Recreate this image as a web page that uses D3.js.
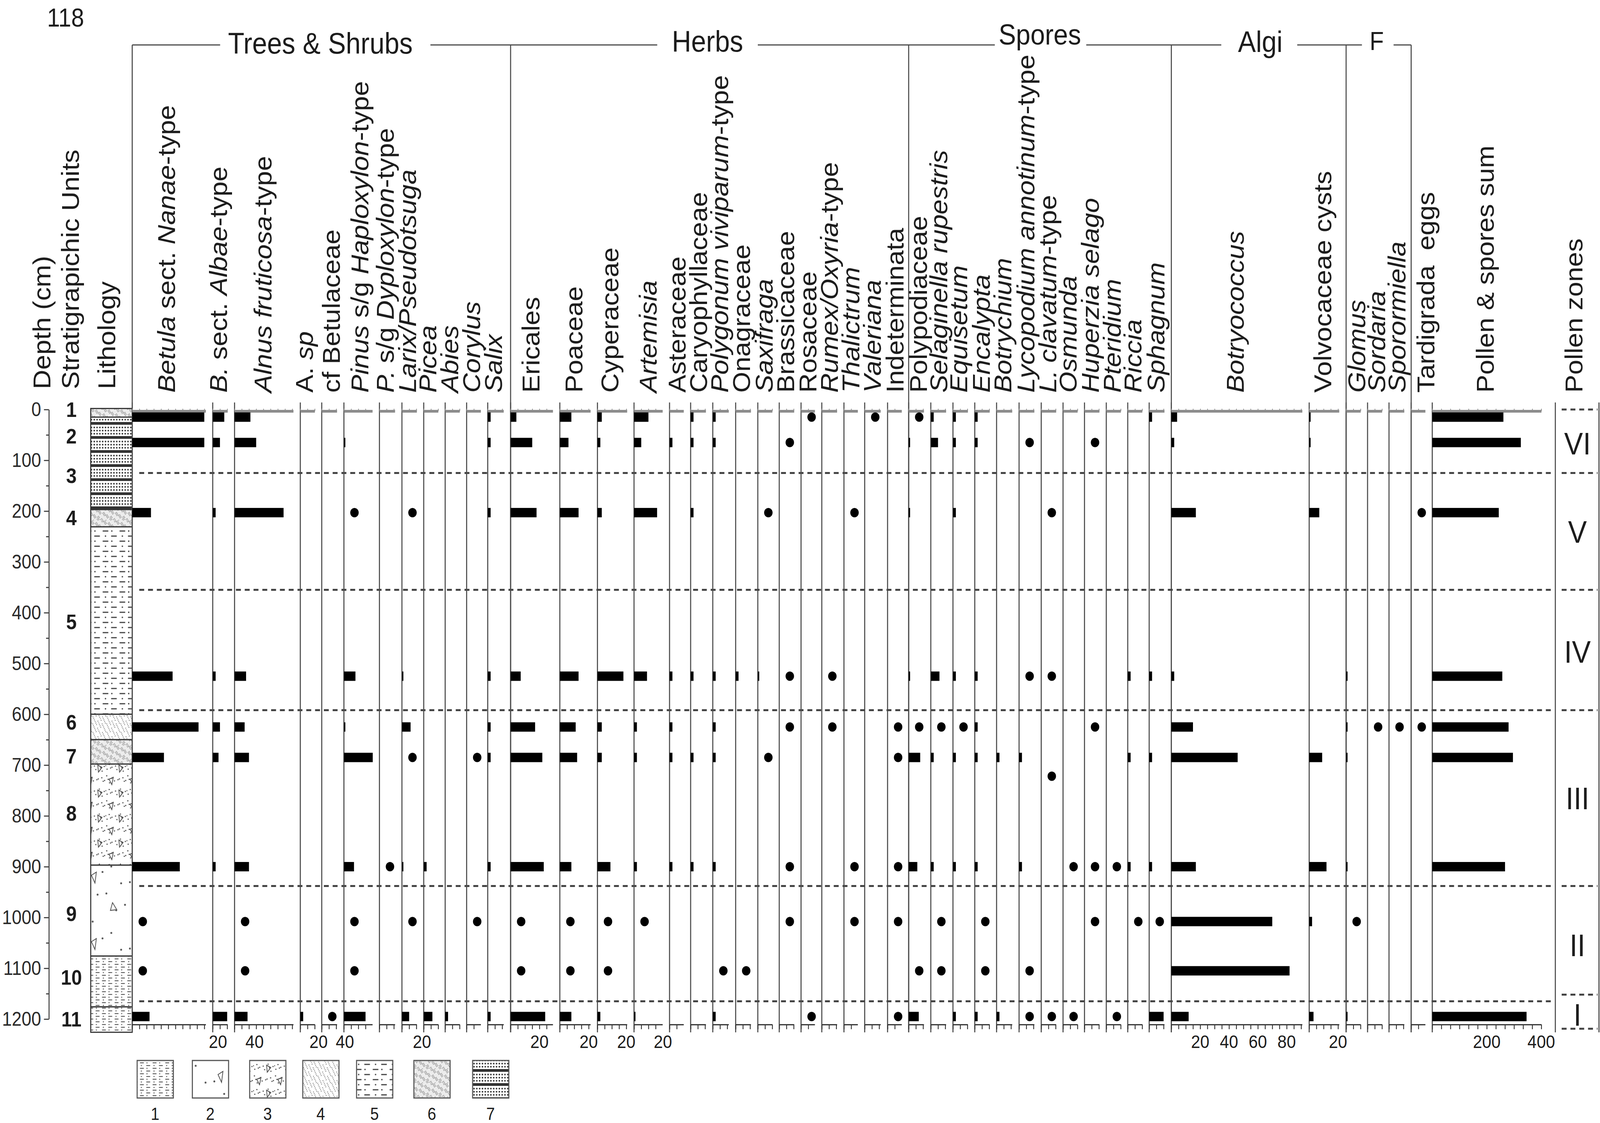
<!DOCTYPE html>
<html><head><meta charset="utf-8">
<script src="https://cdn.jsdelivr.net/npm/d3@7"></script>
<style>html,body{margin:0;padding:0;background:#fff;width:100%;height:100%;overflow:hidden;} svg{display:block;width:100vw;height:100vh;} text{white-space:pre;}</style>
</head><body><svg id="chart" viewBox="0 0 4550 2874" preserveAspectRatio="none"></svg>
<script>
// ---------------- DATA ----------------
const P = "+"; // present (<1 %), drawn as a dot
const sampleDepths = [15, 65, 203, 525, 625, 685, 722, 900, 1008, 1105, 1195];

const treeTaxa = ["*Betula* sect. *Nanae*-type", "*B.* sect. *Albae*-type", "*Alnus fruticosa*-type", "A. *sp*",
  "cf Betulaceae", "*Pinus* s/g *Haploxylon*-type", "*P.* s/g *Dyploxylon*-type", "*Larix/Pseudotsuga*",
  "*Picea*", "*Abies*", "*Corylus*", "*Salix*"];
const treeValues = [
  [50, 50, 13, 28, 46, 22, 0, 33, P, P, 12],
  [8, 5, 2, 2, 5, 4, 0, 2, 0, 0, 10],
  [11, 15, 34, 8, 7, 10, 0, 10, P, P, 9],
  [0, 0, 0, 0, 0, 0, 0, 0, 0, 0, 2],
  [0, 0, 0, 0, 0, 0, 0, 0, 0, 0, P],
  [0, 1, P, 8, 1, 20, 0, 7, P, P, 15],
  [0, 0, 0, 0, 0, 0, 0, P, 0, 0, 0],
  [0, 0, P, 1, 6, P, 0, 1, P, 0, 5],
  [0, 0, 0, 0, 0, 0, 0, 2, 0, 0, 6],
  [0, 0, 0, 0, 0, 0, 0, 0, 0, 0, 2],
  [0, 0, 0, 0, 0, P, 0, 0, P, 0, 0],
  [2, 2, 2, 2, 2, 2, 0, 2, 0, 0, 2]
];

const herbTaxa = ["Ericales", "Poaceae", "Cyperaceae", "*Artemisia*", "Asteraceae", "Caryophyllaceae",
  "*Polygonum viviparum*-type", "Onagraceae", "*Saxifraga*", "Brassicaceae", "Rosaceae", "*Rumex/Oxyria*-type",
  "*Thalictrum*", "*Valeriana*", "Indeterminata"];
const herbValues = [
  [4, 15, 18, 7, 17, 22, 0, 23, P, P, 24],
  [8, 6, 13, 13, 11, 12, 0, 8, P, P, 8],
  [3, 2, 3, 18, 3, 3, 0, 9, P, P, 2],
  [10, 5, 16, 9, 2, 2, 0, 2, P, 0, 1],
  [0, 2, 0, 2, 2, 2, 0, 2, 0, 0, 0],
  [2, 2, 2, 2, 0, 2, 0, 2, 0, 0, 0],
  [2, 2, 0, 2, 2, 2, 0, 2, 0, P, 2],
  [0, 0, 0, 2, 0, 0, 0, 0, 0, P, 0],
  [0, 0, P, 1, 0, P, 0, 0, 0, 0, 0],
  [0, P, 0, P, P, 0, 0, P, P, 0, 0],
  [P, 0, 0, 0, 0, 0, 0, 0, 0, 0, P],
  [0, 0, 0, P, P, 0, 0, 0, 0, 0, 0],
  [0, 0, P, 0, 0, 0, 0, P, P, 0, 0],
  [P, 0, 0, 0, 0, 0, 0, 0, 0, 0, 0],
  [0, 0, 0, 0, P, P, 0, P, P, 0, P]
];

const sporeTaxa = ["Polypodiaceae", "*Selaginella rupestris*", "*Equisetum*", "*Encalypta*", "*Botrychium*",
  "*Lycopodium annotinum*-type", "*L. clavatum*-type", "*Osmunda*", "*Huperzia selago*", "*Pteridium*",
  "*Riccia*", "*Sphagnum*"];
const sporeValues = [
  [P, 1, 1, 1, P, 8, 0, 6, 0, P, 7],
  [2, 5, 0, 6, P, 2, 0, 2, P, P, 0],
  [2, 2, 2, 2, P, 2, 0, 2, 0, 0, 2],
  [2, 2, 0, 2, 2, 2, 0, 2, P, P, 2],
  [0, 0, 0, 0, 0, 2, 0, 0, 0, 0, 2],
  [0, P, 0, P, 0, 2, 0, 2, 0, P, P],
  [0, 0, P, P, 0, 0, P, 0, 0, 0, P],
  [0, 0, 0, 0, 0, 0, 0, P, 0, 0, P],
  [0, P, 0, 0, P, 0, 0, P, P, 0, 0],
  [0, 0, 0, 0, 0, 0, 0, P, 0, 0, P],
  [0, 0, 0, 2, 0, 2, 0, 2, P, 0, 0],
  [2, 0, 0, 2, 0, 2, 0, 2, P, 0, 10]
];

const algaeTaxa = ["*Botryococcus*", "Volvocaceae cysts"];
const algaeValues = [
  [4, 2, 17, 2, 15, 46, 0, 17, 70, 82, 12],
  [1, 1, 7, 0, 0, 9, 0, 12, 2, 0, 3]
];

const fungiTaxa = ["*Glomus*", "*Sordaria*", "*Sporormiella*"];
const fungiValues = [
  [0, 0, 0, 1, 1, 1, 0, 1, P, 0, 1],
  [0, 0, 0, 0, P, 0, 0, 0, 0, 0, 0],
  [0, 0, 0, 0, P, 0, 0, 0, 0, 0, 0]
];

const otherTaxa = ["Tardigrada  eggs"];
const otherValues = [[0, 0, P, 0, P, 0, 0, 0, 0, 0, 0]];

const sumTaxon = "Pollen & spores sum";
const sumValues = [261, 325, 244, 257, 280, 296, 0, 267, 0, 0, 346];

const groupNames = ["Trees & Shrubs", "Herbs", "Spores", "Algi", "F"];

const depthTicks = [0, 100, 200, 300, 400, 500, 600, 700, 800, 900, 1000, 1100, 1200];
const unitNames = ["1", "2", "3", "4", "5", "6", "7", "8", "9", "10", "11"];
const unitDepths = [0, 52, 130, 213, 417, 615, 682, 794, 992, 1117, 1200];

const lithoTop = [-2, 15, 197, 231, 600, 650, 698, 897, 1076, 1176];
const lithoBottom = [15, 197, 231, 600, 650, 698, 897, 1076, 1176, 1226];
const lithoType = [6, 7, 6, 5, 4, 6, 3, 2, 1, 1];
const legendTypes = [1, 2, 3, 4, 5, 6, 7];

const zoneBoundaries = [125, 355, 592, 938, 1165];
const zoneColumnBoundaries = [0, 125, 355, 592, 938, 1152, 1219];
const zoneNames = ["VI", "V", "IV", "III", "II", "I"];
const zoneLabelDepths = [66, 240, 476, 765, 1054, 1191];

// axis tick labels that follow a column scale
const scaleLabels = {"Ericales": [20], "Poaceae": [20], "Cyperaceae": [20], "*Artemisia*": [20],
  "*Botryococcus*": [20, 40, 60, 80], "Volvocaceae cysts": [20], "Pollen & spores sum": [200, 400]};
// the tree-block axis labels (printed off their columns in the original)
const treeAxisLabelText = ["20", "40", "20", "40", "20"];

// ---------------- LAYOUT ----------------
const FONT = "'Liberation Sans', Arial, Helvetica, sans-serif";
const INK = "#1c1c1c", LINE = "#4a4a4a";
const colX = [376, 605, 667, 854, 915, 978, 1079, 1143, 1205, 1266, 1327, 1387,
  1452, 1592, 1699, 1803, 1904, 1964, 2027, 2092, 2155, 2216, 2278, 2337, 2400, 2459, 2524,
  2584, 2647, 2710, 2772, 2834, 2898, 2961, 3023, 3084, 3146, 3207, 3268,
  3331, 3723, 3828, 3889, 3950, 4013, 4073];
const labelX = [478, 626, 753, 870, 947, 1028, 1100, 1164, 1222, 1284, 1346, 1408,
  1515, 1637, 1739, 1848, 1930, 1991, 2051, 2114, 2178, 2239, 2302, 2363, 2424, 2486, 2550,
  2617, 2674, 2731, 2795, 2857, 2922, 2984, 3042, 3105, 3168, 3226, 3292,
  3518, 3766, 3863, 3920, 3978, 4060, 4228];
const treeAxisLabelX = [620, 724, 906, 981, 1200];
const groupBoundX = [376, 1452, 2584, 3331, 3828, 4013];
const HEADER_Y = 115, COL_TOP = 1030, COL_BOTTOM = 2642, AXIS_Y = 2622, TOP_AXIS_Y = 1052;
const PX_PER_PCT = 4.1, SUM_END = 4383, SUM_MAX = 400;
const ZONE_COL = [4423, 4547];
const HEAD_FONT = 69, TICK_FONT = 47, BAR_H = 24;

const svg = d3.select("#chart");
svg.append("rect").attr("width", 4550).attr("height", 2874).attr("fill", "#fff");
const y = d3.scaleLinear().domain([0, 1200]).range([1048, 2608]);

// ---------- patterns ----------
const defs = svg.append("defs");
function pattern(id, w, h, bg, draw) {
  const p = defs.append("pattern").attr("id", id).attr("patternUnits", "userSpaceOnUse")
    .attr("width", w).attr("height", h);
  p.append("rect").attr("width", w).attr("height", h).attr("fill", bg);
  draw(p, w, h);
}
function speck(p, w, h, n, r, col, seed) {
  for (let i = 0; i < n; i++) {
    const px = ((i * 53 + seed * 17) % w) + 0.5;
    const py = ((i * 29 + Math.floor(i / 3) * 11 + seed * 7) % h) + 0.5;
    p.append("circle").attr("cx", px).attr("cy", py).attr("r", r).attr("fill", col);
  }
}
function tri(p, pts) {
  p.append("path").attr("d", "M" + pts.join("L") + "Z").attr("fill", "none").attr("stroke", "#444").attr("stroke-width", 2);
}
pattern("lit1", 36, 14, "#fff", (p) => {
  p.append("line").attr("x1", 2).attr("x2", 13).attr("y1", 4).attr("y2", 4).attr("stroke", "#555").attr("stroke-width", 2.2);
  p.append("circle").attr("cx", 22).attr("cy", 4).attr("r", 1.6).attr("fill", "#555");
  p.append("line").attr("x1", 20).attr("x2", 31).attr("y1", 11).attr("y2", 11).attr("stroke", "#555").attr("stroke-width", 2.2);
  p.append("circle").attr("cx", 6).attr("cy", 11).attr("r", 1.6).attr("fill", "#555");
});
pattern("lit2", 120, 170, "#fff", (p) => {
  tri(p, [[20, 30], [34, 22], [30, 50]]);
  tri(p, [[80, 100], [92, 118], [74, 120]]);
  speck(p, 120, 170, 9, 2.6, "#555", 3);
});
pattern("lit3", 60, 64, "#fff", (p) => {
  speck(p, 60, 64, 22, 1.8, "#555", 1);
  tri(p, [[10, 10], [22, 6], [18, 24]]);
  tri(p, [[38, 38], [50, 44], [40, 56]]);
});
pattern("lit4", 40, 40, "#fff", (p) => { speck(p, 40, 40, 34, 1.3, "#777", 2); });
pattern("lit5", 48, 26, "#fff", (p) => {
  p.append("line").attr("x1", 4).attr("x2", 20).attr("y1", 7).attr("y2", 7).attr("stroke", "#444").attr("stroke-width", 3);
  p.append("circle").attr("cx", 30).attr("cy", 7).attr("r", 2).attr("fill", "#444");
  p.append("line").attr("x1", 28).attr("x2", 44).attr("y1", 20).attr("y2", 20).attr("stroke", "#444").attr("stroke-width", 3);
  p.append("circle").attr("cx", 12).attr("cy", 20).attr("r", 2).attr("fill", "#444");
});
pattern("lit6", 36, 36, "#ececec", (p) => { speck(p, 36, 36, 44, 1.3, "#888", 5); });
pattern("lit7", 16, 36, "#fff", (p) => {
  p.append("rect").attr("x", 0).attr("y", 0).attr("width", 16).attr("height", 7).attr("fill", "#333");
  [14, 22, 30].forEach(yy => [4, 12].forEach(xx =>
    p.append("circle").attr("cx", xx).attr("cy", yy).attr("r", 2.2).attr("fill", "#333")));
});

// ---------- helpers ----------
function richText(sel, str) {
  const parts = str.split("*");
  parts.forEach((s, i) => { if (s.length) sel.append("tspan").attr("font-style", i % 2 ? "italic" : "normal").text(s); });
}
function vLabel(x, y0, str, size) {
  const t = svg.append("text").attr("transform", `translate(${x},${y0}) rotate(-90)`)
    .attr("dy", "0.28em").attr("font-family", FONT).attr("font-size", size).attr("fill", INK);
  richText(t, str);
}

// ---------- "118" ----------
svg.append("text").attr("x", 134).attr("y", 68).attr("font-family", FONT).attr("font-size", 66).attr("fill", INK).text("118");

// ---------- left headers ----------
vLabel(124, 996, "Depth (cm)", HEAD_FONT);
vLabel(205, 996, "Stratigrapichic Units", HEAD_FONT);
vLabel(308, 996, "Lithology", HEAD_FONT);

// ---------- depth axis ----------
const depthAxis = svg.append("g").attr("transform", "translate(139,0)")
  .call(d3.axisLeft(y).tickValues(depthTicks).tickSize(14).tickPadding(8).tickSizeOuter(0).tickFormat(d3.format("d")));
depthAxis.selectAll("text").attr("font-family", FONT).attr("font-size", 50).attr("fill", "#2a2a2a");
depthAxis.selectAll("path,line").attr("stroke", LINE).attr("stroke-width", 3);
const minor = svg.append("g").attr("transform", "translate(139,0)")
  .call(d3.axisLeft(y).tickValues(depthTicks.slice(0, -1).map(d => d + 50)).tickSize(8).tickFormat(""));
minor.select(".domain").remove();
minor.selectAll("line").attr("stroke", LINE).attr("stroke-width", 3);

// ---------- units ----------
svg.append("g").selectAll("text").data(unitNames).join("text")
  .attr("x", 203).attr("y", (d, i) => y(unitDepths[i])).attr("dy", "0.36em")
  .attr("text-anchor", "middle").attr("font-family", FONT).attr("font-weight", "bold")
  .attr("font-size", 54).attr("fill", INK).text(d => d);

// ---------- lithology ----------
svg.append("g").selectAll("rect").data(lithoType).join("rect")
  .attr("x", 258).attr("width", 118)
  .attr("y", (d, i) => y(lithoTop[i])).attr("height", (d, i) => y(lithoBottom[i]) - y(lithoTop[i]))
  .attr("fill", d => `url(#lit${d})`).attr("stroke", "#333").attr("stroke-width", 3);

// ---------- group header ----------
const hdr = svg.append("g").attr("stroke", LINE).attr("stroke-width", 3);
[[376, 626], [1224, 1869], [2155, 2829], [3089, 3473], [3689, 3873], [3963, 4013]].forEach(s =>
  hdr.append("line").attr("x1", s[0]).attr("x2", s[1]).attr("y1", HEADER_Y).attr("y2", HEADER_Y));
groupBoundX.forEach(x => hdr.append("line").attr("x1", x).attr("x2", x).attr("y1", HEADER_Y).attr("y2", COL_BOTTOM));
const groupLabelPos = [[911, 137, 76], [2012, 132, 76], [2957, 114, 74], [3584, 133, 76], [3915, 128, 66]];
groupNames.forEach((g, i) => svg.append("text").attr("x", groupLabelPos[i][0]).attr("y", groupLabelPos[i][1])
  .attr("text-anchor", "middle").attr("font-family", FONT).attr("font-size", groupLabelPos[i][2]).attr("fill", INK).text(g));

// ---------- columns ----------
const allTaxa = [...treeTaxa, ...herbTaxa, ...sporeTaxa, ...algaeTaxa, ...fungiTaxa, ...otherTaxa, sumTaxon];
const allValues = [...treeValues, ...herbValues, ...sporeValues, ...algaeValues, ...fungiValues, ...otherValues, sumValues];

const cols = allTaxa.map((name, i) => {
  const x0 = colX[i];
  const isSum = i === allTaxa.length - 1;
  const end = isSum ? SUM_END : colX[i + 1] - 20;
  const max = isSum ? SUM_MAX : (end - x0) / PX_PER_PCT;
  const xs = d3.scaleLinear().domain([0, max]).range([x0, end]);
  const ticks = isSum ? d3.range(0, 13).map(k => k * SUM_MAX / 12) : d3.range(0, max + 0.001, 5);
  return {name, i, x0, xs, ticks, values: allValues[i]};
});

// zone dashed lines (behind marks)
const zoneG = svg.append("g");
zoneG.selectAll("line.z").data(zoneBoundaries).join("line").attr("class", "z")
  .attr("x1", 396).attr("x2", 4412).attr("y1", d => y(d)).attr("y2", d => y(d))
  .attr("stroke", "#444").attr("stroke-width", 5).attr("stroke-dasharray", "14,11");
zoneG.selectAll("line.zc").data(zoneColumnBoundaries).join("line").attr("class", "zc")
  .attr("x1", ZONE_COL[0] + 18).attr("x2", ZONE_COL[1] - 4).attr("y1", d => y(d)).attr("y2", d => y(d))
  .attr("stroke", "#444").attr("stroke-width", 5).attr("stroke-dasharray", "14,11");

cols.forEach(c => {
  const g = svg.append("g");
  // column baseline
  g.append("line").attr("x1", c.x0).attr("x2", c.x0).attr("y1", COL_TOP).attr("y2", COL_BOTTOM)
    .attr("stroke", LINE).attr("stroke-width", 3);
  // top axis (light grey)
  const tax = g.append("g").attr("transform", `translate(0,${TOP_AXIS_Y})`)
    .call(d3.axisTop(c.xs).tickValues(c.ticks).tickSize(6).tickSizeOuter(0).tickFormat(""));
  tax.selectAll("path").attr("stroke", "#8c8c8c").attr("stroke-width", 7);
  tax.selectAll("line").attr("stroke", "#8c8c8c").attr("stroke-width", 2);
  // bottom axis
  const ax = g.append("g").attr("transform", `translate(0,${AXIS_Y})`)
    .call(d3.axisBottom(c.xs).tickValues(c.ticks).tickSize(12).tickSizeOuter(0).tickFormat(""));
  ax.selectAll("path").attr("stroke", "#333").attr("stroke-width", 3);
  ax.selectAll("line").attr("stroke", "#333").attr("stroke-width", 2.5);
  // labelled ticks
  (scaleLabels[c.name] || []).forEach(v => g.append("text").attr("x", c.xs(v)).attr("y", 2682)
    .attr("text-anchor", "middle").attr("font-family", FONT).attr("font-size", TICK_FONT).attr("fill", INK).text(v));
  // bars
  const data = c.values.map((v, k) => ({v, d: sampleDepths[k]}));
  g.selectAll("rect.bar").data(data.filter(o => typeof o.v === "number" && o.v > 0)).join("rect")
    .attr("class", "bar").attr("x", c.x0).attr("y", o => y(o.d) - BAR_H / 2)
    .attr("width", o => c.xs(o.v) - c.x0).attr("height", BAR_H).attr("fill", "#000");
  // presence dots
  g.selectAll("circle.dot").data(data.filter(o => o.v === P)).join("circle")
    .attr("class", "dot").attr("cx", c.x0 + 30).attr("cy", o => y(o.d)).attr("r", 12).attr("fill", "#000");
  // header label
  vLabel(labelX[c.i], 1005, c.name, HEAD_FONT);
});

// tree-block axis labels
svg.append("g").selectAll("text").data(treeAxisLabelText).join("text")
  .attr("x", (d, i) => treeAxisLabelX[i]).attr("y", 2682).attr("text-anchor", "middle")
  .attr("font-family", FONT).attr("font-size", TICK_FONT).attr("fill", INK).text(d => d);

// ---------- pollen zones column ----------
ZONE_COL.forEach(x => svg.append("line").attr("x1", x).attr("x2", x).attr("y1", COL_TOP).attr("y2", COL_BOTTOM)
  .attr("stroke", LINE).attr("stroke-width", 3));
vLabel(4481, 1005, "Pollen zones", HEAD_FONT);
svg.append("g").selectAll("text").data(zoneNames).join("text")
  .attr("x", 4486).attr("y", (d, i) => y(zoneLabelDepths[i])).attr("dy", "0.36em")
  .attr("text-anchor", "middle").attr("font-family", FONT).attr("font-size", 80).attr("fill", INK).text(d => d);

// ---------- lithology legend ----------
const legX = [390, 547, 710, 861, 1014, 1177, 1344];
const lg = svg.append("g");
lg.selectAll("rect").data(legendTypes).join("rect")
  .attr("x", (d, i) => legX[i]).attr("y", 2714).attr("width", 103).attr("height", 96)
  .attr("fill", d => `url(#lit${d})`).attr("stroke", "#555").attr("stroke-width", 3);
lg.selectAll("text").data(legendTypes).join("text")
  .attr("x", (d, i) => legX[i] + 51).attr("y", 2866).attr("text-anchor", "middle")
  .attr("font-family", FONT).attr("font-size", 44).attr("fill", INK).text(d => d);
</script>
</body></html>
